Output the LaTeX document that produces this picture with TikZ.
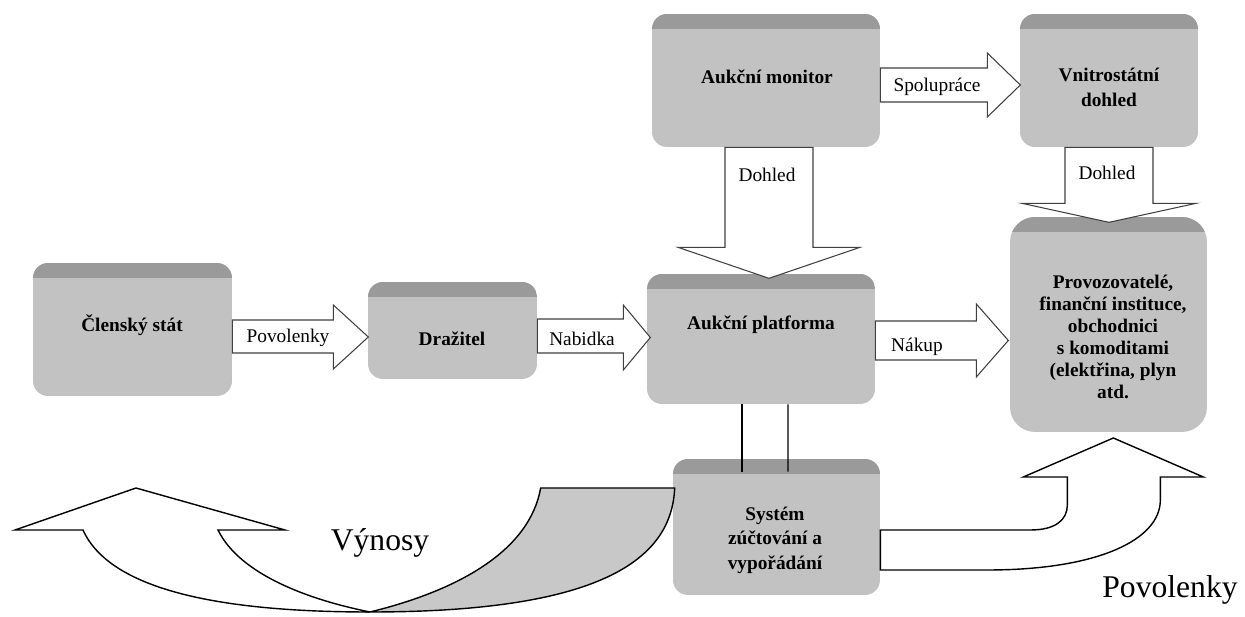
\documentclass[tikz,border=0pt]{standalone}
\usepackage{fontspec}
\setmainfont{Liberation Serif}
\usepackage{xcolor}
\usepackage{tikz}
\usetikzlibrary{calc}

\definecolor{boxgray}{RGB}{194,194,194}
\definecolor{bandgray}{RGB}{154,154,154}
\definecolor{backgray}{RGB}{200,200,200}

\begin{document}
\begin{tikzpicture}[x=0.02cm,y=-0.02cm,line join=miter]
    \tikzstyle{box}=[rectangle, rounded corners=0.3cm, fill=boxgray, inner sep=0pt,
        path picture={\fill[bandgray, sharp corners] (path picture bounding box.north west) rectangle ([yshift=-0.3cm]path picture bounding box.north east);}]
    \tikzstyle{boxtext}=[align=center, inner sep=0pt, font=\bfseries\fontsize{11}{14}\selectfont]
    \tikzstyle{flow}=[draw=black!75, fill=white, line width=0.6pt]
    \tikzstyle{flowtext}=[inner sep=0pt, font=\fontsize{11}{13}\selectfont]
    \tikzstyle{bigflow}=[draw=black, line width=0.8pt]
    \tikzstyle{bigtext}=[inner sep=0pt, font=\fontsize{18}{22}\selectfont]
    \useasboundingbox (0,0) rectangle (1245,617);

    \node [box, minimum width=3.98cm, minimum height=2.66cm] (clen) at (132.5,329.5) {};
    \node [box, minimum width=3.38cm, minimum height=1.94cm] (draz) at (452.5,330.5) {};
    \node [box, minimum width=4.56cm, minimum height=2.60cm] (plat) at (761,339) {};
    \node [box, minimum width=4.56cm, minimum height=2.66cm] (mon) at (766,80.5) {};
    \node [box, minimum width=3.56cm, minimum height=2.66cm] (vnit) at (1109,80.5) {};
    \node [box, rounded corners=0.5cm, minimum width=3.94cm, minimum height=4.30cm] (prov) at (1108.5,324.5) {};
    \node [box, minimum width=4.14cm, minimum height=2.72cm] (sys) at (776.5,527) {};

    \node [boxtext] (clenT) at (132,325) {Členský stát};
    \node [boxtext] (drazT) at (452,339) {Dražitel};
    \node [boxtext] (platT) at (761,325) {Aukční platforma};
    \node [boxtext] (monT) at (767,77) {Aukční monitor};
    \node [boxtext] (vnitT) at (1109,87.5) {Vnitrostátní\\ dohled};
    \node [boxtext, font=\bfseries\fontsize{11}{12.5}\selectfont] (provT) at (1113,337) {Provozovatelé,\\ finanční instituce,\\ obchodnici\\ s komoditami\\ (elektřina, plyn\\ atd.};
    \node [boxtext] (sysT) at (775,540) {Systém\\ zúčtování a\\ vypořádání};

    \draw [flow] ($(clen.east)+(0,-9.5)$) -- ++(101,0) -- ++(0,-15) -- ++(35,32) -- ++(-35,32) -- ++(0,-16) -- ++(-101,0) -- cycle;
    \draw [flow] ($(draz.east)+(0,-11.5)$) -- ++(86,0) -- ++(0,-14) -- ++(27,32.5) -- ++(-27,32.5) -- ++(0,-17) -- ++(-86,0) -- cycle;
    \draw [flow] ($(plat.east)+(0,-18)$) -- ++(101,0) -- ++(0,-17) -- ++(32,36.5) -- ++(-32,36.5) -- ++(0,-17) -- ++(-101,0) -- cycle;
    \draw [flow] ($(mon.east)+(0,-12.5)$) -- ++(107,0) -- ++(0,-15) -- ++(33,32) -- ++(-33,32) -- ++(0,-15) -- ++(-107,0) -- cycle;
    \draw [flow] ($(mon.south)+(-41,0)$) -- ++(0,100) -- ++(-47,0) -- ++(91,31) -- ++(91,-31) -- ++(-47,0) -- ++(0,-100) -- cycle;
    \draw [flow] ($(vnit.south)+(-44,0)$) -- ++(0,56) -- ++(-43,0) -- ++(87,19) -- ++(87,-19) -- ++(-43,0) -- ++(0,-56) -- cycle;

    \draw [line width=0.8pt] ($(plat.south)+(-19,0)$) -- ($(sys.north)+(-34.5,13)$);
    \draw [line width=0.8pt] ($(plat.south)+(27,0)$) -- ($(sys.north)+(11.5,13)$);

    \draw [bigflow, fill=white] ($(sys.east)+(0,3)$) -- ++(150,0) .. controls +(25,0) and +(0,15) .. ++(37,-25) -- ++(0,-28) -- ++(-44,0) -- ++(90,-39) -- ++(90,39) -- ++(-43,0) -- ++(0,23) .. controls +(0,40) and +(110,0) .. ++(-173,70) -- ++(-107,0) -- cycle;

    \coordinate (turn) at (370,612);
    \draw [bigflow, fill=white] (turn) .. controls +(-60,-12) and +(22,45) .. ++(-152,-82) -- ++(67,0) -- ++(-149,-42) -- ++(-121,42) -- ++(68,0) .. controls +(27,60) and +(-150,0) .. (turn);
    \draw [bigflow, fill=backgray] ($(sys.west)+(2,-39)$) -- ++(-134,0) .. controls +(-11,62) and +(90,-22) .. (turn) .. controls +(230,0) and +(-3,72) .. ($(sys.west)+(2,-39)$) -- cycle;

    \node [flowtext] (povT) at (288,338) {Povolenky};
    \node [flowtext] (nabT) at (582,339) {Nabidka};
    \node [flowtext] (nakT) at (917,347) {Nákup};
    \node [flowtext] (spolT) at (937,87) {Spolupráce};
    \node [flowtext] (doh1T) at (767,175) {Dohled};
    \node [flowtext] (doh2T) at (1107,173) {Dohled};
    \node [bigtext] (vynT) at (380,543) {Výnosy};
    \node [bigtext] (pov2T) at (1170,590) {Povolenky};
\end{tikzpicture}
\end{document}
